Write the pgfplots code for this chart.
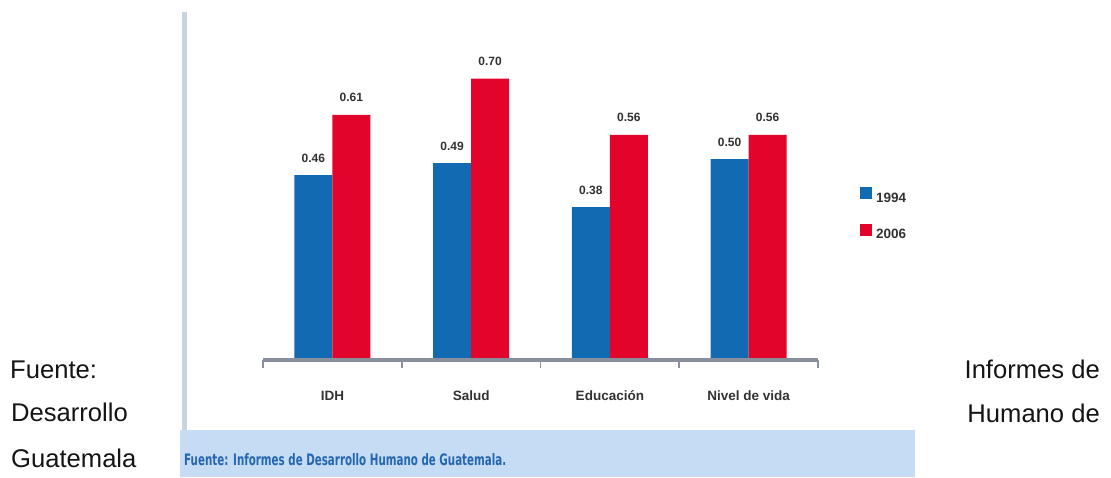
\documentclass[border=0pt]{standalone}
\usepackage{graphicx}
\usepackage{pgfplots}
\pgfplotsset{compat=1.18}
\usepackage{fontspec}
\setmainfont{Liberation Sans}
\newfontfamily\dejavu{DejaVu Sans}
\definecolor{barblue}{RGB}{18,106,178}
\definecolor{barred}{RGB}{226,4,42}
\definecolor{axisgray}{RGB}{138,143,158}
\definecolor{bandblue}{RGB}{197,220,244}
\definecolor{linegray}{RGB}{198,212,228}
\definecolor{srcblue}{RGB}{36,102,176}
\definecolor{lblgray}{RGB}{50,50,50}
\begin{document}
\begin{tikzpicture}[x=1pt,y=1pt]
\path[use as bounding box] (0,0) rectangle (1111,477);
\fill[bandblue] (180,0) rectangle (915,47);
\fill[linegray] (182,47) rectangle (187,465);
\begin{axis}[
 at={(263pt,117pt)}, anchor=south west,
 scale only axis, width=555pt, height=321.6pt,
 xmin=-0.5, xmax=3.5, ymin=0, ymax=0.8,
 axis x line*=bottom, axis y line=none,
 ybar=0pt, bar width=38pt,
 xtick={0,1,2,3}, xticklabels={IDH,Salud,Educación,Nivel de vida},
 major tick length=0pt,
 extra x ticks={-0.5,0.5,1.5,2.5,3.5}, extra x tick labels={},
 extra x tick style={major tick length=8pt, tick align=outside, tick style={line width=1.6pt, axisgray}},
 axis line style={line width=3.5pt, axisgray},
 xticklabel style={font=\bfseries\fontsize{13.5}{16}\selectfont, text=lblgray, anchor=base, inner sep=0pt, yshift=-40pt},
 nodes near coords={\pgfmathprintnumber[fixed,fixed zerofill,precision=2,assume math mode=true]{\pgfplotspointmeta}},
 every node near coord/.append style={font=\bfseries\fontsize{12}{14}\selectfont, text=lblgray, anchor=base, inner sep=0pt, yshift=13pt},
 legend style={at={(1.0703,0.544)}, anchor=north west, draw=none, fill=none, font=\bfseries\fontsize{13.5}{16}\selectfont, text=lblgray, row sep=20pt, column sep=4pt, nodes={inner sep=0pt}},
 legend cell align=left,
 legend image code/.code={\fill[#1] (0pt,-1.2pt) rectangle (12pt,10.8pt);},
]
\addplot[fill=barblue, draw=none] coordinates {(0,0.46) (1,0.49) (2,0.38) (3,0.50)};
\addplot[fill=barred, draw=none] coordinates {(0,0.61) (1,0.70) (2,0.56) (3,0.56)};
\legend{1994,2006}
\draw[axisgray, line width=4pt] (axis cs:-0.5,0) -- (axis cs:3.5,0);
\end{axis}
\begin{scope}[every node/.style={inner sep=0pt, font=\fontsize{25.6}{30}\selectfont, text=black!92}]
\node[anchor=base west] at (10,98.7) {Fuente:};
\node[anchor=base east] at (1100,98.7) {Informes de};
\node[anchor=base west] at (11,55.3) {Desarrollo};
\node[anchor=base east] at (1100,54.5) {Humano de};
\node[anchor=base west] at (11,10) {Guatemala};
\end{scope}
\node[anchor=base west, inner sep=0pt, text=srcblue] at (184,12) {\resizebox{322pt}{12pt}{\dejavu\bfseries Fuente: Informes de Desarrollo Humano de Guatemala.}};
\end{tikzpicture}
\end{document}
